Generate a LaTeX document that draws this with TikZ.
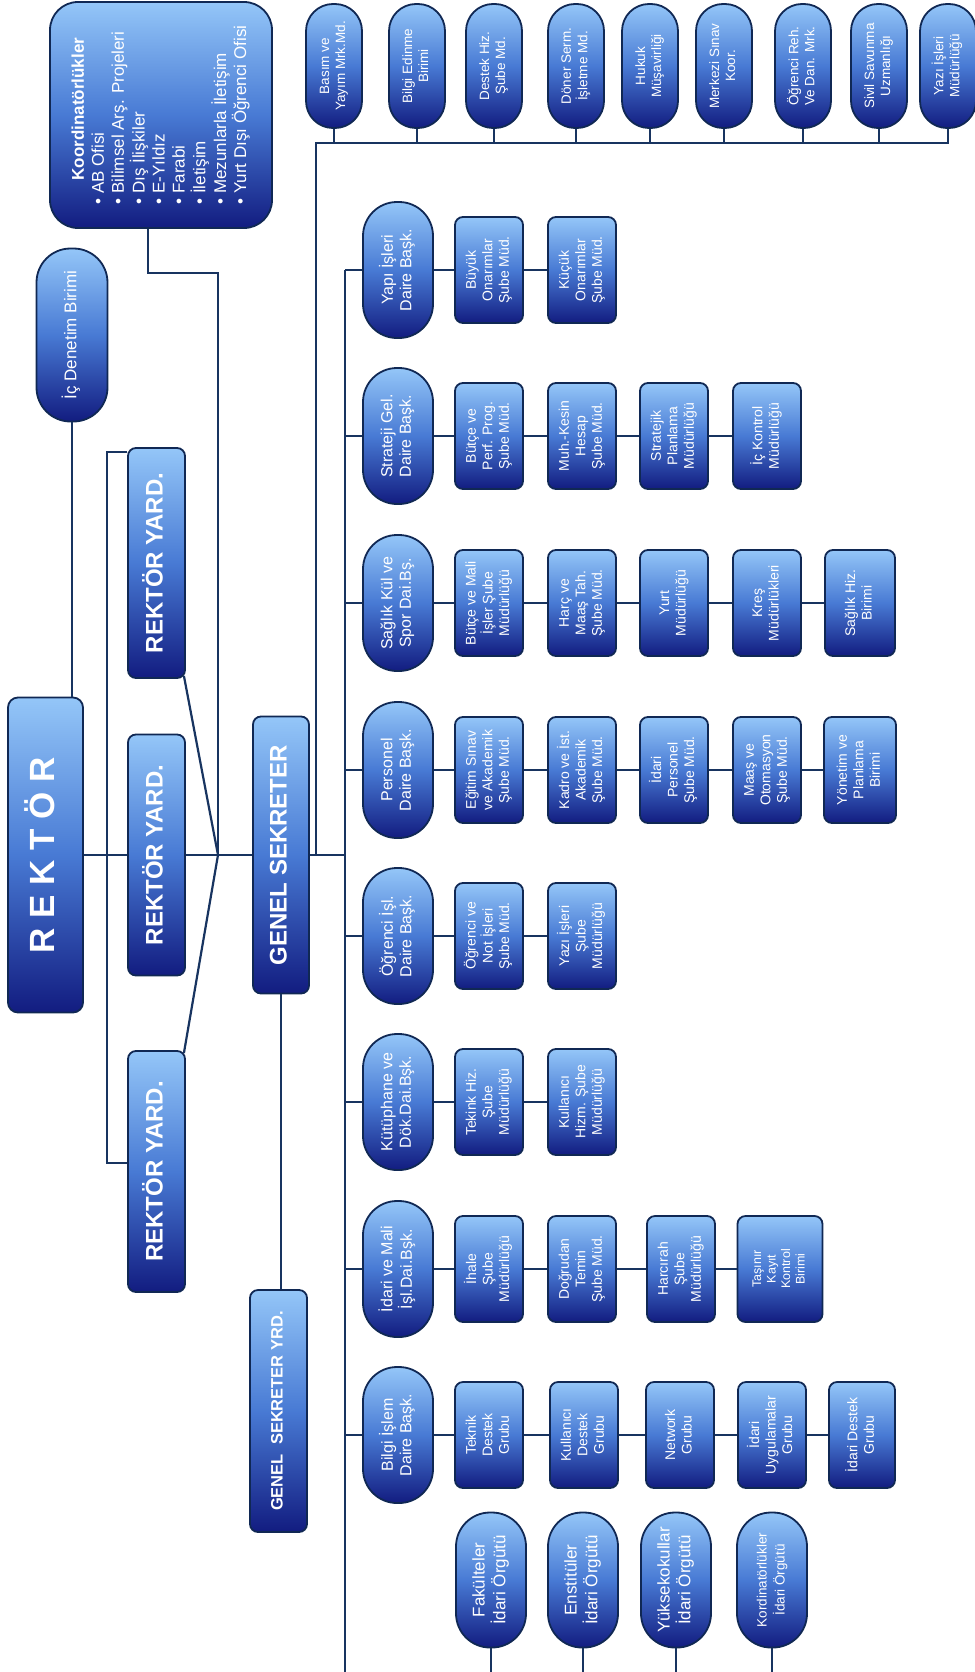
\documentclass[tikz,border=0pt]{standalone}
\usepackage{fontspec}
\setmainfont{Liberation Sans}
\usepackage{graphicx}

\definecolor{boxtop}{RGB}{148,198,248}
\definecolor{boxmid}{RGB}{72,122,212}
\definecolor{boxbot}{RGB}{18,28,128}
\definecolor{boxline}{RGB}{16,40,84}
\definecolor{wirecol}{RGB}{24,52,96}

% text standing upright (read bottom to top)
\newcommand{\vtext}[1]{\rotatebox{90}{\begin{tabular}{@{}c@{}}#1\end{tabular}}}

\tikzset{
  wire/.style={draw=wirecol, line width=2.2pt},
  orgbox/.style={draw=boxline, line width=1.8pt, top color=boxtop, bottom color=boxbot, middle color=boxmid, text=white, inner sep=0pt, rounded corners=8pt},
  subbox/.style={orgbox, minimum width=68pt, minimum height=106pt, font=\fontsize{14}{16.5}\selectfont},
  daire/.style={orgbox, minimum width=70pt, minimum height=136pt, rounded corners=34pt, font=\fontsize{16}{18.5}\selectfont},
  toppill/.style={orgbox, minimum width=56pt, minimum height=124pt, rounded corners=27pt, font=\fontsize{13.5}{16}\selectfont},
  botpill/.style={orgbox, minimum width=70pt, minimum height=135pt, rounded corners=34pt, font=\fontsize{17}{20}\selectfont},
  yard/.style={orgbox, minimum width=57pt, font=\fontsize{24}{28}\selectfont\bfseries},
}

\begin{document}
\begin{tikzpicture}[x=1pt, y=-1pt]
    \fill [white] (0,0) rectangle (974,1672);
    \useasboundingbox (0,0) rectangle (974,1672);
    % rektor and staff
    \node [orgbox, minimum width=222pt, minimum height=226pt, rounded corners=28pt, font=\fontsize{17}{20}\selectfont] (koord) at (161,115) {\rotatebox{90}{\begin{tabular}{@{}l@{}}\hspace{24pt}\textbf{Koordinatörlükler}\\• AB Ofisi\\• Bilimsel Arş. Projeleri\\• Dış İlişkiler\\• E-Yıldız\\• Farabi\\• İletişim\\• Mezunlarla İletişim\\• Yurt Dışı Öğrenci Ofisi\end{tabular}}};
    \node [orgbox, minimum width=71pt, minimum height=173pt, rounded corners=34pt, font=\fontsize{17}{20}\selectfont] (icden) at (72,335) {\vtext{İç Denetim Birimi}};
    \node [orgbox, minimum width=75pt, minimum height=315pt, rounded corners=10pt, font=\fontsize{35}{40}\selectfont\bfseries] (rektor) at (45.5,855) {\vtext{R E K T Ö R}};
    \node [yard, minimum height=230pt] (ry1) at (156.5,563) {\vtext{REKTÖR YARD.}};
    \node [yard, minimum height=241pt] (ry2) at (156.5,855) {\vtext{REKTÖR YARD.}};
    \node [yard, minimum height=241pt] (ry3) at (156.5,1171.5) {\vtext{REKTÖR YARD.}};
    \node [orgbox, minimum width=56pt, minimum height=277pt, font=\fontsize{24}{28}\selectfont\bfseries] (gs) at (281,855) {\vtext{GENEL SEKRETER}};
    \node [orgbox, minimum width=57pt, minimum height=242pt, font=\fontsize{16.5}{20}\selectfont\bfseries] (gsyrd) at (278.5,1411) {\vtext{GENEL\ \ SEKRETER YRD.}};
    \coordinate (jn) at (218,855);
    \coordinate (brtop) at (107,452);
    \coordinate (brbot) at (107,1163);
    \coordinate (busl) at (316,143);
    \coordinate (spinebot) at (345,1672);
    % top row
    \node [toppill] (basim) at (334,66) {\vtext{Basım ve\\Yayım Mrk.Md.}};
    \node [toppill] (bilgied) at (417,66) {\vtext{Bilgi Edinme\\Birimi}};
    \node [toppill] (destek) at (494,66) {\vtext{Destek Hiz.\\Şube Md.}};
    \node [toppill] (doner) at (576,66) {\vtext{Döner Serm.\\İşletme Md.}};
    \node [toppill] (hukuk) at (650,66) {\vtext{Hukuk\\Müşavirliği}};
    \node [toppill] (merkezi) at (724,66) {\vtext{Merkezi Sınav\\Koor.}};
    \node [toppill] (ogrreh) at (803,66) {\vtext{Öğrenci Reh.\\Ve Dan. Mrk.}};
    \node [toppill] (sivil) at (879,66) {\vtext{Sivil Savunma\\Uzmanlığı}};
    \node [toppill] (yazi) at (948,66) {\vtext{Yazı İşleri\\Müdürlüğü}};
    % daire baskanliklari
    \node [daire] (yapi) at (398,270) {\vtext{Yapı İşleri\\Daire Başk.}};
    \node [subbox] (yapia) at (489,270) {\vtext{Büyük\\Onarımlar\\Şube Müd.}};
    \node [subbox] (yapib) at (582,270) {\vtext{Küçük\\Onarımlar\\Şube Müd.}};
    \node [daire] (strat) at (398,436) {\vtext{Strateji Gel.\\Daire Başk.}};
    \node [subbox] (strata) at (489,436) {\vtext{Bütçe ve\\Perf. Prog.\\Şube Müd.}};
    \node [subbox] (stratb) at (582,436) {\vtext{Muh.-Kesin\\Hesap\\Şube Müd.}};
    \node [subbox] (stratc) at (674,436) {\vtext{Stratejik\\Planlama\\Müdürlüğü}};
    \node [subbox] (stratd) at (767,436) {\vtext{İç Kontrol\\Müdürlüğü}};
    \node [daire] (saglik) at (398,603) {\vtext{Sağlık Kül ve\\Spor Dai.Bş.}};
    \node [subbox] (saglika) at (489,603) {\vtext{Bütçe ve Mali\\İşler Şube\\Müdürlüğü}};
    \node [subbox] (saglikb) at (582,603) {\vtext{Harç ve\\Maaş Tah.\\Şube Müd.}};
    \node [subbox] (saglikc) at (674,603) {\vtext{Yurt\\Müdürlüğü}};
    \node [subbox] (saglikd) at (767,603) {\vtext{Kreş\\Müdürlükleri}};
    \node [subbox, minimum width=70pt] (saglike) at (860,603) {\vtext{Sağlık Hiz.\\Birimi}};
    \node [daire] (pers) at (398,770) {\vtext{Personel\\Daire Başk.}};
    \node [subbox] (persa) at (489,770) {\vtext{Eğitim Sınav\\ve Akademik\\Şube Müd.}};
    \node [subbox] (persb) at (582,770) {\vtext{Kadro ve İst.\\Akademik\\Şube Müd.}};
    \node [subbox] (persc) at (674,770) {\vtext{İdari\\Personel\\Şube Müd.}};
    \node [subbox] (persd) at (767,770) {\vtext{Maaş ve\\Otomasyon\\Şube Müd.}};
    \node [subbox, minimum width=72pt] (perse) at (860,770) {\vtext{Yönetim ve\\Planlama\\Birimi}};
    \node [daire] (ogr) at (398,936) {\vtext{Öğrenci İşl.\\Daire Başk.}};
    \node [subbox] (ogra) at (489,936) {\vtext{Öğrenci ve\\Not İşleri\\Şube Müd.}};
    \node [subbox] (ogrb) at (582,936) {\vtext{Yazı İşleri\\Şube\\Müdürlüğü}};
    \node [daire] (kutup) at (398,1102) {\vtext{Kütüphane ve\\Dök.Dai.Bşk.}};
    \node [subbox] (kutupa) at (489,1102) {\vtext{Tekink Hiz.\\Şube\\Müdürlüğü}};
    \node [subbox] (kutupb) at (582,1102) {\vtext{Kullanıcı\\Hizm. Şube\\Müdürlüğü}};
    \node [daire] (idari) at (398,1269) {\vtext{İdari ve Mali\\İşl.Dai.Bşk.}};
    \node [subbox] (idaria) at (489,1269) {\vtext{İhale\\Şube\\Müdürlüğü}};
    \node [subbox] (idarib) at (582,1269) {\vtext{Doğrudan\\Temin\\Şube Müd.}};
    \node [subbox] (idaric) at (681,1269) {\vtext{Harcırah\\Şube\\Müdürlüğü}};
    \node [subbox, minimum width=85pt, font=\fontsize{12.5}{14.5}\selectfont] (idarid) at (780,1269) {\vtext{Taşınır\\Kayıt\\Kontrol\\Birimi}};
    \node [daire] (bilgi) at (398,1435) {\vtext{Bilgi İşlem\\Daire Başk.}};
    \node [subbox] (bilgia) at (489,1435) {\vtext{Teknik\\Destek\\Grubu}};
    \node [subbox] (bilgib) at (584,1435) {\vtext{Kullanıcı\\Destek\\Grubu}};
    \node [subbox] (bilgic) at (680,1435) {\vtext{Network\\Grubu}};
    \node [subbox] (bilgid) at (772,1435) {\vtext{İdari\\Uygulamalar\\Grubu}};
    \node [subbox, minimum width=66pt] (bilgie) at (862,1435) {\vtext{İdari Destek\\Grubu}};
    % bottom row
    \node [botpill] (fak) at (491,1580) {\vtext{Fakülteler\\İdari Örgütü}};
    \node [botpill] (enst) at (583,1580) {\vtext{Enstitüler\\İdari Örgütü}};
    \node [botpill] (yuks) at (676,1580) {\vtext{Yüksekokullar\\İdari Örgütü}};
    \node [botpill, font=\fontsize{13.5}{18}\selectfont] (kord) at (772,1580) {\vtext{Kordinatörlükler\\İdari Örgütü}};
    % connectors
    \draw [wire] (icden.south) -- (icden.south |- rektor.north);
    \draw [wire] ([xshift=-13pt]koord.south) -- ++(0,44) -| (jn);
    \draw [wire] (rektor.east) -- (ry2.west) (ry2.east) -- (gs.west);
    \draw [wire] (ry1.west |- brtop) -- (brtop) -- (brbot) -- (ry3.west |- brbot);
    \draw [wire] ([xshift=-2pt,yshift=3pt]ry1.south east) -- (jn) -- ([xshift=-2pt,yshift=-3pt]ry3.north east);
    \draw [wire] (gs.south) -- (gs.south |- gsyrd.north);
    \draw [wire] (gs.east) -- (gs.east -| spinebot);
    \draw [wire] (busl |- gs.east) -- (busl) -- (yazi.south |- busl) -- (yazi.south);
    \draw [wire] (basim.south) -- (basim.south |- busl);
    \draw [wire] (bilgied.south) -- (bilgied.south |- busl);
    \draw [wire] (destek.south) -- (destek.south |- busl);
    \draw [wire] (doner.south) -- (doner.south |- busl);
    \draw [wire] (hukuk.south) -- (hukuk.south |- busl);
    \draw [wire] (merkezi.south) -- (merkezi.south |- busl);
    \draw [wire] (ogrreh.south) -- (ogrreh.south |- busl);
    \draw [wire] (sivil.south) -- (sivil.south |- busl);
    \draw [wire] (yapi.west -| spinebot) -- (spinebot);
    \draw [wire] (yapi.west -| spinebot) -- (yapi.west);
    \draw [wire] (strat.west -| spinebot) -- (strat.west);
    \draw [wire] (saglik.west -| spinebot) -- (saglik.west);
    \draw [wire] (pers.west -| spinebot) -- (pers.west);
    \draw [wire] (ogr.west -| spinebot) -- (ogr.west);
    \draw [wire] (kutup.west -| spinebot) -- (kutup.west);
    \draw [wire] (idari.west -| spinebot) -- (idari.west);
    \draw [wire] (bilgi.west -| spinebot) -- (bilgi.west);
    \draw [wire] (yapi.east) -- (yapia.west) (yapia.east) -- (yapib.west);
    \draw [wire] (strat.east) -- (strata.west) (strata.east) -- (stratb.west) (stratb.east) -- (stratc.west) (stratc.east) -- (stratd.west);
    \draw [wire] (saglik.east) -- (saglika.west) (saglika.east) -- (saglikb.west) (saglikb.east) -- (saglikc.west) (saglikc.east) -- (saglikd.west) (saglikd.east) -- (saglike.west);
    \draw [wire] (pers.east) -- (persa.west) (persa.east) -- (persb.west) (persb.east) -- (persc.west) (persc.east) -- (persd.west) (persd.east) -- (perse.west);
    \draw [wire] (ogr.east) -- (ogra.west) (ogra.east) -- (ogrb.west);
    \draw [wire] (kutup.east) -- (kutupa.west) (kutupa.east) -- (kutupb.west);
    \draw [wire] (idari.east) -- (idaria.west) (idaria.east) -- (idarib.west) (idarib.east) -- (idaric.west) (idaric.east) -- (idarid.west);
    \draw [wire] (bilgi.east) -- (bilgia.west) (bilgia.east) -- (bilgib.west) (bilgib.east) -- (bilgic.west) (bilgic.east) -- (bilgid.west) (bilgid.east) -- (bilgie.west);
    \draw [wire] (fak.south) -- (fak.south |- spinebot);
    \draw [wire] (enst.south) -- (enst.south |- spinebot);
    \draw [wire] (yuks.south) -- (yuks.south |- spinebot);
    \draw [wire] (kord.south) -- (kord.south |- spinebot);
\end{tikzpicture}
\end{document}
